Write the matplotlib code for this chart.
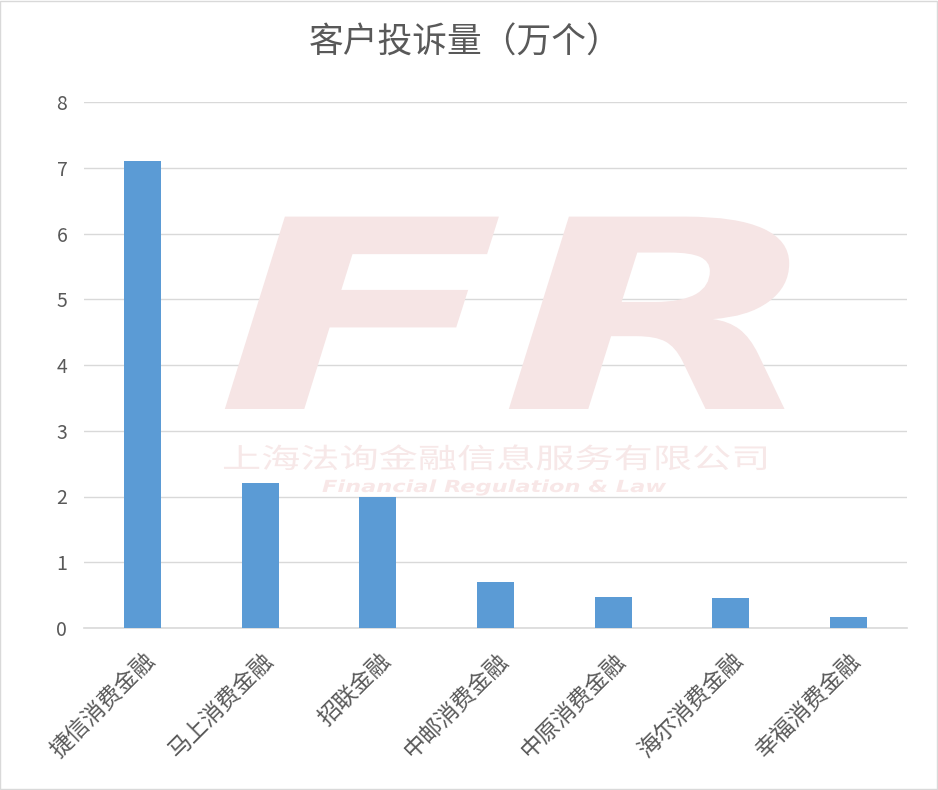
import matplotlib
matplotlib.use("Agg")
import matplotlib.pyplot as plt
from matplotlib.transforms import ScaledTranslation, Affine2D
from matplotlib.patches import Rectangle
from matplotlib.patheffects import AbstractPathEffect

plt.rcParams['font.family'] = ['Noto Sans CJK SC', 'DejaVu Sans']

categories = ['捷信消费金融', '马上消费金融', '招联金融', '中邮消费金融',
              '中原消费金融', '海尔消费金融', '幸福消费金融']
values = [7.1, 2.2, 2.0, 0.7, 0.47, 0.46, 0.17]
title = '客户投诉量（万个）'
yticks = [0, 1, 2, 3, 4, 5, 6, 7, 8]


class Stretch(AbstractPathEffect):
    """Scale glyphs about their origin (watermark look)."""
    def __init__(self, sx, sy=1.0):
        super().__init__()
        self.sx = sx
        self.sy = sy

    def draw_path(self, renderer, gc, tpath, affine, rgbFace=None):
        renderer.draw_path(gc, tpath, Affine2D().scale(self.sx, self.sy) + affine, rgbFace)


W, H = 938, 790
fig = plt.figure(figsize=(W / 100, H / 100), dpi=100)
fig.patch.set_facecolor('white')

ax = fig.add_axes([84 / W, 1 - 628 / H, (907 - 84) / W, (628 - 102) / H])
ax.set_facecolor('none')

x = list(range(len(categories)))
ax.bar(x, values, width=0.315, color='#5B9BD5', zorder=3)
ax.set_xlim(-0.5, len(categories) - 0.5)
ax.set_ylim(0, 8)
ax.set_yticks(yticks)
ax.set_yticklabels([str(v) for v in yticks], fontsize=14, color='#595959')
ax.grid(axis='y', color='#D9D9D9', linewidth=1.0, zorder=1)
ax.set_axisbelow(True)
for s in ['top', 'right', 'left']:
    ax.spines[s].set_visible(False)
ax.spines['bottom'].set_color('#D9D9D9')
ax.spines['bottom'].set_linewidth(1.2)
ax.tick_params(axis='both', length=0)
ax.tick_params(axis='y', pad=12)
ax.tick_params(axis='x', pad=15)

ax.set_xticks(x)
ax.set_xticklabels(categories, rotation=45, ha='right', fontsize=16.5, color='#595959')
off = ScaledTranslation(17 / 100, 0, fig.dpi_scale_trans)
for lab in ax.get_xticklabels():
    lab.set_transform(lab.get_transform() + off)

# title
fig.text(465 / W, 1 - 43 / H, title, ha='center', va='center', fontsize=25, color='#595959')

# watermark
wm = '#F6E5E5'
k = 2.375
fig.text(216 / W, 1 - 409 / H, 'F', ha='left', va='baseline', fontsize=80,
         fontweight='bold', fontstyle='italic', color=wm, family='DejaVu Sans',
         zorder=0, path_effects=[Stretch(1.6 * k, k)])
fig.text(500 / W, 1 - 409 / H, 'R', ha='left', va='baseline', fontsize=80,
         fontweight='bold', fontstyle='italic', color=wm, family='DejaVu Sans',
         zorder=0, path_effects=[Stretch(1.6 * k, k)])
fig.text(222 / W, 1 - 468 / H, '上海法询金融信息服务有限公司', ha='left', va='baseline',
         fontsize=20, color='#F7E8E8', zorder=0, path_effects=[Stretch(1.41)])
fig.text(322 / W, 1 - 492 / H, 'Financial Regulation & Law', ha='left', va='baseline',
         fontsize=12, fontweight='bold', fontstyle='italic', color='#F8E7E7',
         family='DejaVu Sans', zorder=0, path_effects=[Stretch(1.35)])

# outer border
fig.patches.append(Rectangle((0.0005, 0.0008), 0.998, 0.998, transform=fig.transFigure,
                             fill=False, edgecolor='#D9D9D9', linewidth=1.0))

fig.savefig('out.png', dpi=100, facecolor='white')
